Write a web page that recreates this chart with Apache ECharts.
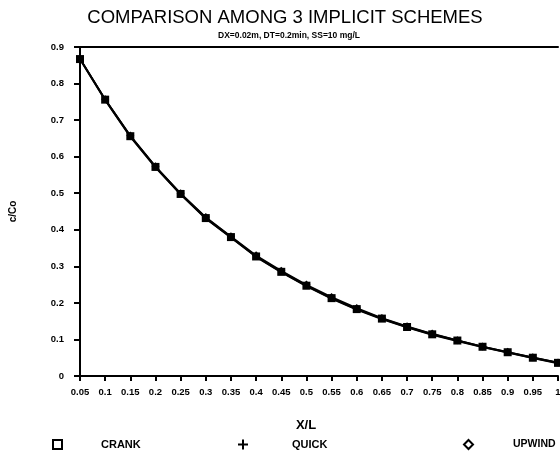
<!DOCTYPE html>
<html>
<head>
<meta charset="utf-8">
<script src="https://cdn.jsdelivr.net/npm/echarts@6/dist/echarts.min.js"></script>
<style>
  html, body { margin: 0; padding: 0; background: #fff; }
  #chart { width: 560px; height: 466px; }
</style>
</head>
<body>
<div id="chart"></div>
<script>
// Relative distance along the column and normalized concentration for each scheme
const xPositions = [0.05, 0.1, 0.15, 0.2, 0.25, 0.3, 0.35, 0.4, 0.45, 0.5,
                    0.55, 0.6, 0.65, 0.7, 0.75, 0.8, 0.85, 0.9, 0.95, 1.0];
const crankValues  = [0.867, 0.756, 0.656, 0.572, 0.498, 0.432, 0.380, 0.327, 0.285, 0.247,
                      0.213, 0.183, 0.157, 0.134, 0.114, 0.097, 0.080, 0.065, 0.050, 0.036];
const quickValues  = [0.867, 0.755, 0.655, 0.571, 0.497, 0.431, 0.379, 0.326, 0.284, 0.246,
                      0.212, 0.182, 0.156, 0.133, 0.113, 0.096, 0.079, 0.064, 0.049, 0.035];
const upwindValues = [0.868, 0.757, 0.658, 0.574, 0.500, 0.435, 0.382, 0.330, 0.288, 0.250,
                      0.216, 0.186, 0.159, 0.136, 0.116, 0.098, 0.081, 0.066, 0.051, 0.037];
const seriesNames = ['CRANK', 'QUICK', 'UPWIND'];

const pairs = v => xPositions.map((x, i) => [x, v[i]]);
const labelFont = { color: '#000', fontFamily: 'Liberation Sans, Arial, sans-serif', fontWeight: 'bold', fontSize: 9.5 };

const chart = echarts.init(document.getElementById('chart'));
chart.setOption({
  backgroundColor: '#fff',
  animation: false,
  title: [
    { text: 'COMPARISON AMONG 3 IMPLICIT SCHEMES', left: 280, top: 3, textAlign: 'center',
      textStyle: { color: '#000', fontFamily: 'Liberation Sans, Arial, sans-serif', fontWeight: 'normal', fontSize: 18.5 } },
    { text: 'DX=0.02m, DT=0.2min, SS=10 mg/L', left: 284, top: 26, textAlign: 'center',
      textStyle: Object.assign({}, labelFont, { fontSize: 8.5 }) }
  ],
  grid: { left: 80, right: 2, top: 47, bottom: 90, outerBoundsMode: 'none' },
  xAxis: [
    {
      type: 'value', min: 0.05, max: 1, interval: 0.05,
      name: 'X/L', nameLocation: 'middle', nameGap: 43,
      nameTextStyle: Object.assign({}, labelFont, { fontSize: 13, padding: [0, 26, 0, 0] }),
      axisLine: { show: true, onZero: false, lineStyle: { color: '#000', width: 2 } },
      axisTick: { show: true, length: 5, lineStyle: { color: '#000', width: 2 } },
      axisLabel: Object.assign({}, labelFont, { margin: 11 }),
      splitLine: { show: false }
    },
    {
      type: 'value', position: 'top', min: 0.05, max: 1, interval: 0.05,
      axisLine: { show: true, onZero: false, lineStyle: { color: '#000', width: 2 } },
      axisTick: { show: false }, axisLabel: { show: false }, splitLine: { show: false }
    }
  ],
  yAxis: {
    type: 'value', min: 0, max: 0.9, interval: 0.1,
    name: 'c/Co', nameLocation: 'middle', nameGap: 62, nameRotate: 90,
    nameTextStyle: Object.assign({}, labelFont, { fontSize: 10 }),
    axisLine: { show: true, lineStyle: { color: '#000', width: 2 } },
    axisTick: { show: true, length: 6, lineStyle: { color: '#000', width: 2 } },
    axisLabel: Object.assign({}, labelFont, { margin: 16, formatter: v => String(+v.toFixed(2)) }),
    splitLine: { show: false }
  },
  legend: [
    { data: [{ name: 'CRANK', icon: 'rect', itemStyle: { color: '#fff', borderColor: '#000', borderWidth: 2 } }],
      left: 47, top: 434, itemWidth: 9, itemHeight: 9, selectedMode: false,
      textStyle: Object.assign({}, labelFont, { fontSize: 11, padding: [0, 0, 0, 34] }) },
    { data: [{ name: 'QUICK', icon: 'path://M4,0H6V4H10V6H6V10H4V6H0V4H4Z', itemStyle: { color: '#000', borderWidth: 0 } }],
      left: 233, top: 434, itemWidth: 10, itemHeight: 10, selectedMode: false,
      textStyle: Object.assign({}, labelFont, { fontSize: 11, padding: [2, 0, 0, 39] }) },
    { data: [{ name: 'UPWIND', icon: 'diamond', itemStyle: { color: '#fff', borderColor: '#000', borderWidth: 2 } }],
      left: 458, top: 434, itemWidth: 9, itemHeight: 9, selectedMode: false,
      textStyle: Object.assign({}, labelFont, { fontSize: 10.5, padding: [0, 0, 0, 35] }) }
  ],
  series: [
    { name: seriesNames[0], type: 'line', data: pairs(crankValues), symbol: 'rect', symbolSize: 8,
      lineStyle: { color: '#000', width: 2 }, itemStyle: { color: '#000' }, z: 3 },
    { name: seriesNames[1], type: 'line', data: pairs(quickValues), symbol: 'rect', symbolSize: 6,
      lineStyle: { color: '#000', width: 2 }, itemStyle: { color: '#000' }, z: 2 },
    { name: seriesNames[2], type: 'line', data: pairs(upwindValues), symbol: 'diamond', symbolSize: 8,
      lineStyle: { color: '#000', width: 1.5 }, itemStyle: { color: '#000' }, z: 2 }
  ]
});
</script>
</body>
</html>
